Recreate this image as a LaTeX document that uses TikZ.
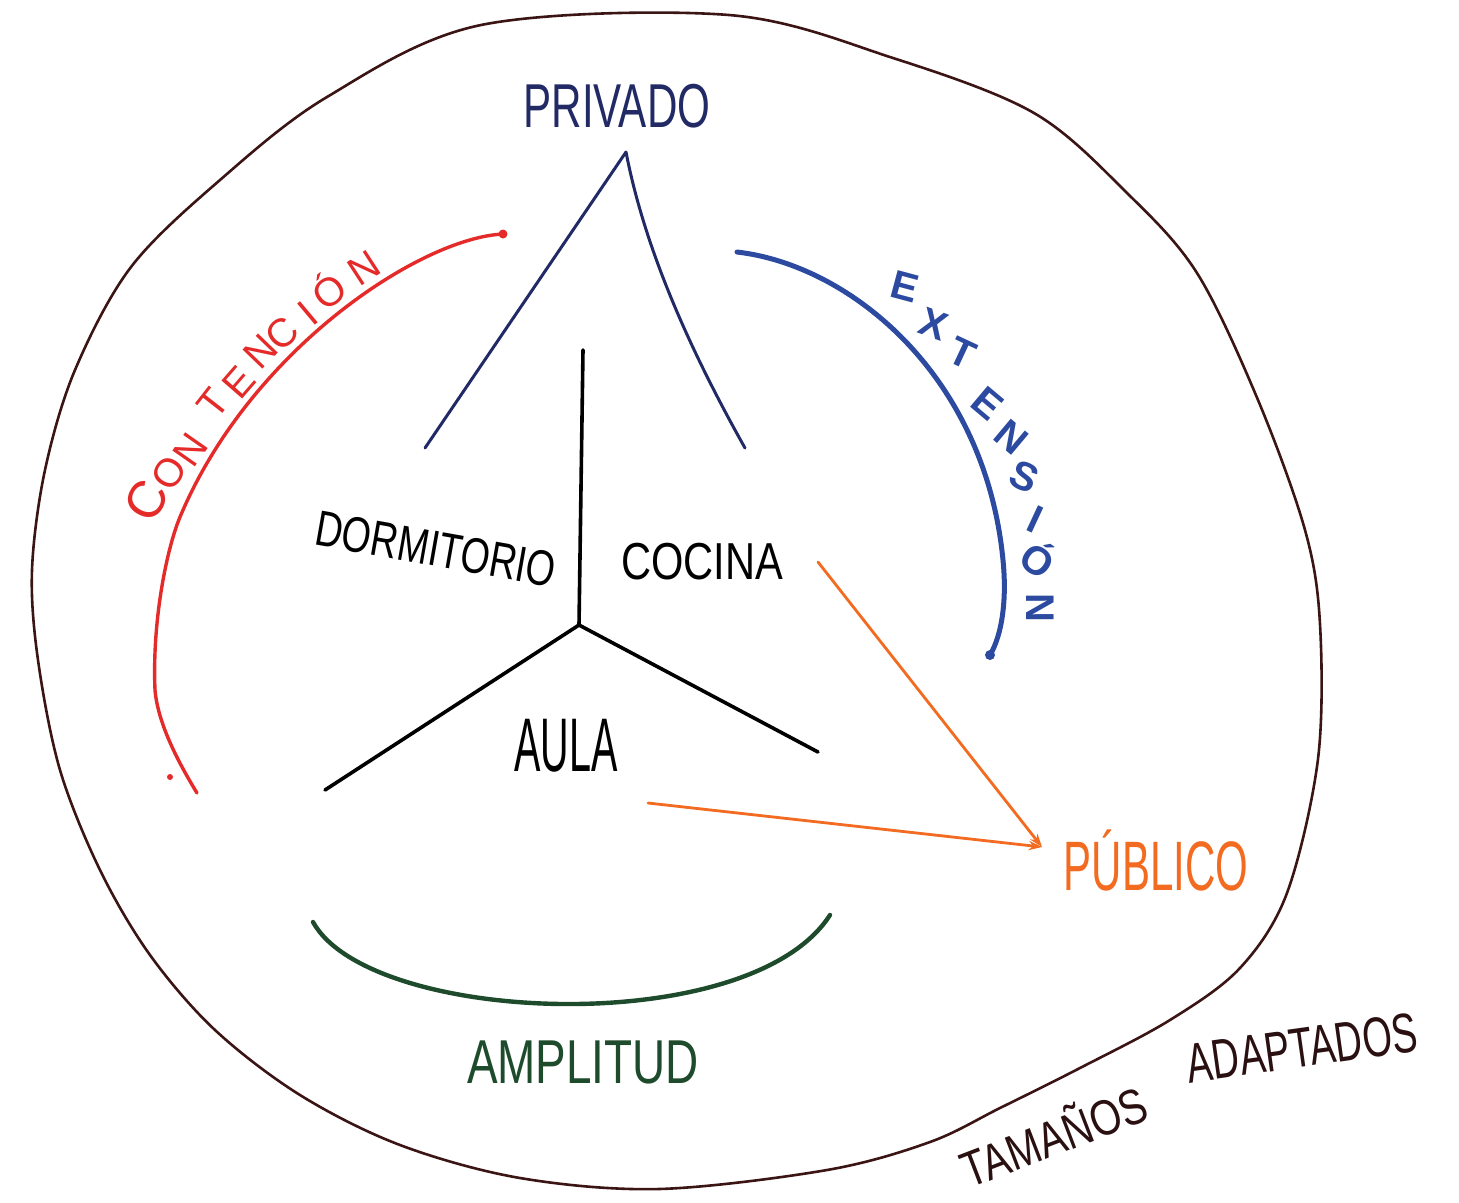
\documentclass[tikz,border=0pt]{standalone}
\usepackage{fontspec}
\usepackage{graphicx}
\setmainfont{Liberation Sans}
\usetikzlibrary{arrows.meta}
\definecolor{cnavy}{HTML}{222A66}
\definecolor{cblue}{HTML}{2B4AA0}
\definecolor{cred}{HTML}{E52A2A}
\definecolor{corange}{HTML}{F26B21}
\definecolor{cgreen}{HTML}{1D4B2C}
\definecolor{couter}{HTML}{3B1414}
\definecolor{cnote}{HTML}{2A1010}
\newcommand\narrowtxt[2]{\scalebox{#1}[1]{#2}}
\begin{document}
\begin{tikzpicture}[x=0.25pt,y=-0.25pt,line cap=round,line join=round,
  fs/.style={font=\fontsize{#1}{#1}\selectfont},
  lbl/.style={inner sep=0pt},
  arcletter/.style={inner sep=0pt,text depth=0pt},
  outerline/.style={draw=couter,line width=0.65pt},
  navyline/.style={draw=cnavy,line width=0.75pt},
  blackline/.style={draw=black,line width=0.9pt},
  redarc/.style={draw=cred,line width=0.85pt},
  bluearc/.style={draw=cblue,line width=1.25pt},
  greenarc/.style={draw=cgreen,line width=1.1pt},
  orangearrow/.style={draw=corange,line width=0.7pt,-{Stealth[length=3.3pt,width=2.3pt]}}]
\useasboundingbox (0,0) rectangle (1459,1202);
\fill[white] (0,0) rectangle (1459,1202);

% outer boundary
\draw[outerline] plot[smooth cycle,tension=0.55] coordinates {
  (729,15) (893,58) (1034,113) (1127,193) (1197,273) (1258,400) (1305,530)
  (1320,624) (1318,759) (1287,893) (1240,968) (1170,1020) (1080,1068)
  (1000,1108) (930,1142) (827,1170) (659,1189) (520,1178) (400,1145)
  (300,1095) (215,1030) (150,955) (100,870) (60,770) (38,660) (32,570)
  (45,470) (75,370) (131,267) (220,180) (327,97) (481,25)};

% labels
\node[lbl,fs=15.5,text=cnavy,anchor=base] (privado) at (617,127) {\narrowtxt{0.68}{PRIVADO}};
\node[lbl,fs=12.5,rotate=-10] (dormitorio) at (436,549) {\narrowtxt{0.75}{DORMITORIO}};
\node[lbl,fs=13] (cocina) at (702,562) {\narrowtxt{0.8}{COCINA}};
\node[lbl,fs=19] (aula) at (566,746) {\narrowtxt{0.52}{AULA}};
\node[lbl,fs=17.5,text=corange,anchor=base] (publico) at (1156,890) {\narrowtxt{0.6}{PÚBLICO}};
\node[lbl,fs=15.5,text=cgreen] (amplitud) at (583,1062) {\narrowtxt{0.74}{AMPLITUD}};
\node[lbl,fs=12.5,text=cnote,anchor=base,rotate=21] (tamanos) at (1060,1154) {\narrowtxt{0.8}{TAMAÑOS}};
\node[lbl,fs=14,text=cnote,rotate=8] (adaptados) at (1302,1048) {\narrowtxt{0.68}{ADAPTADOS}};

% privado branches
\coordinate (apex) at (626,152);
\coordinate (navL) at (425,448);
\coordinate (navR) at (745,448);
\draw[navyline] (apex) -- (navL);
\draw[navyline] (apex) .. controls (645,250) and (690,350) .. (navR);

% black Y
\coordinate (ytop) at (583,350);
\coordinate (yj) at (579,625);
\coordinate (yl) at (325,790);
\coordinate (yr) at (818,752);
\draw[blackline] (ytop) -- (yj);
\draw[blackline] (yj) -- (yl);
\draw[blackline] (yj) -- (yr);

% red arc (contencion)
\draw[redarc] (503,234) .. controls (420,238) and (250,350) .. (180,517)
  .. controls (167,548) and (152,620) .. (155,690)
  .. controls (158,725) and (180,765) .. (197,793);
\fill[cred] (503,234) circle (4.5);
\fill[cred] (170,777) circle (3);
\node[arcletter,fs=13,text=cred,text height=9.3pt,rotate=62] (con1) at (146,500) {C};
\foreach [count=\i from 2] \ch/\px/\py/\ang in {O/169/473/58, N/190/449/55,
    T/213/403/52, E/238/382/49, N/260/351/46, C/282/333/42, I/307/313/40,
    Ó/329/292/37, N/364/268/33}
  \node[arcletter,fs=10,text=cred,text height=7.2pt,rotate=\ang] (con\i) at (\px,\py) {\ch};

% blue arc (extension)
\draw[bluearc] (737,252) .. controls (850,265) and (985,375) .. (1003,560)
  .. controls (1007,600) and (1002,635) .. (990,655);
\fill[cblue] (990,655) circle (5);
\node[arcletter,fs=12.5,text=cblue,text height=9pt,font=\bfseries,rotate=-15] (ext1) at (906,283) {E};
\foreach [count=\i from 2] \ch/\px/\py/\ang in {X/934/323/-20, T/963/352/-25,
    E/988/403/-40, N/1012/436/-40, S/1025/476/-25, I/1036/518/-25,
    Ó/1038/560/-35, N/1041/608/-90}
  \node[arcletter,fs=10.5,text=cblue,text height=7.5pt,font=\bfseries,rotate=\ang] (ext\i) at (\px,\py) {\ch};

% green arc (amplitud)
\draw[greenarc] (313,922) .. controls (370,1025) and (750,1040) .. (830,915);

% orange arrows to publico
\coordinate (o1) at (818,562);
\coordinate (o2) at (648,803);
\coordinate (pin) at (1042,847);
\draw[orangearrow] (o1) -- (pin);
\draw[orangearrow] (o2) -- (pin);
\end{tikzpicture}
\end{document}
